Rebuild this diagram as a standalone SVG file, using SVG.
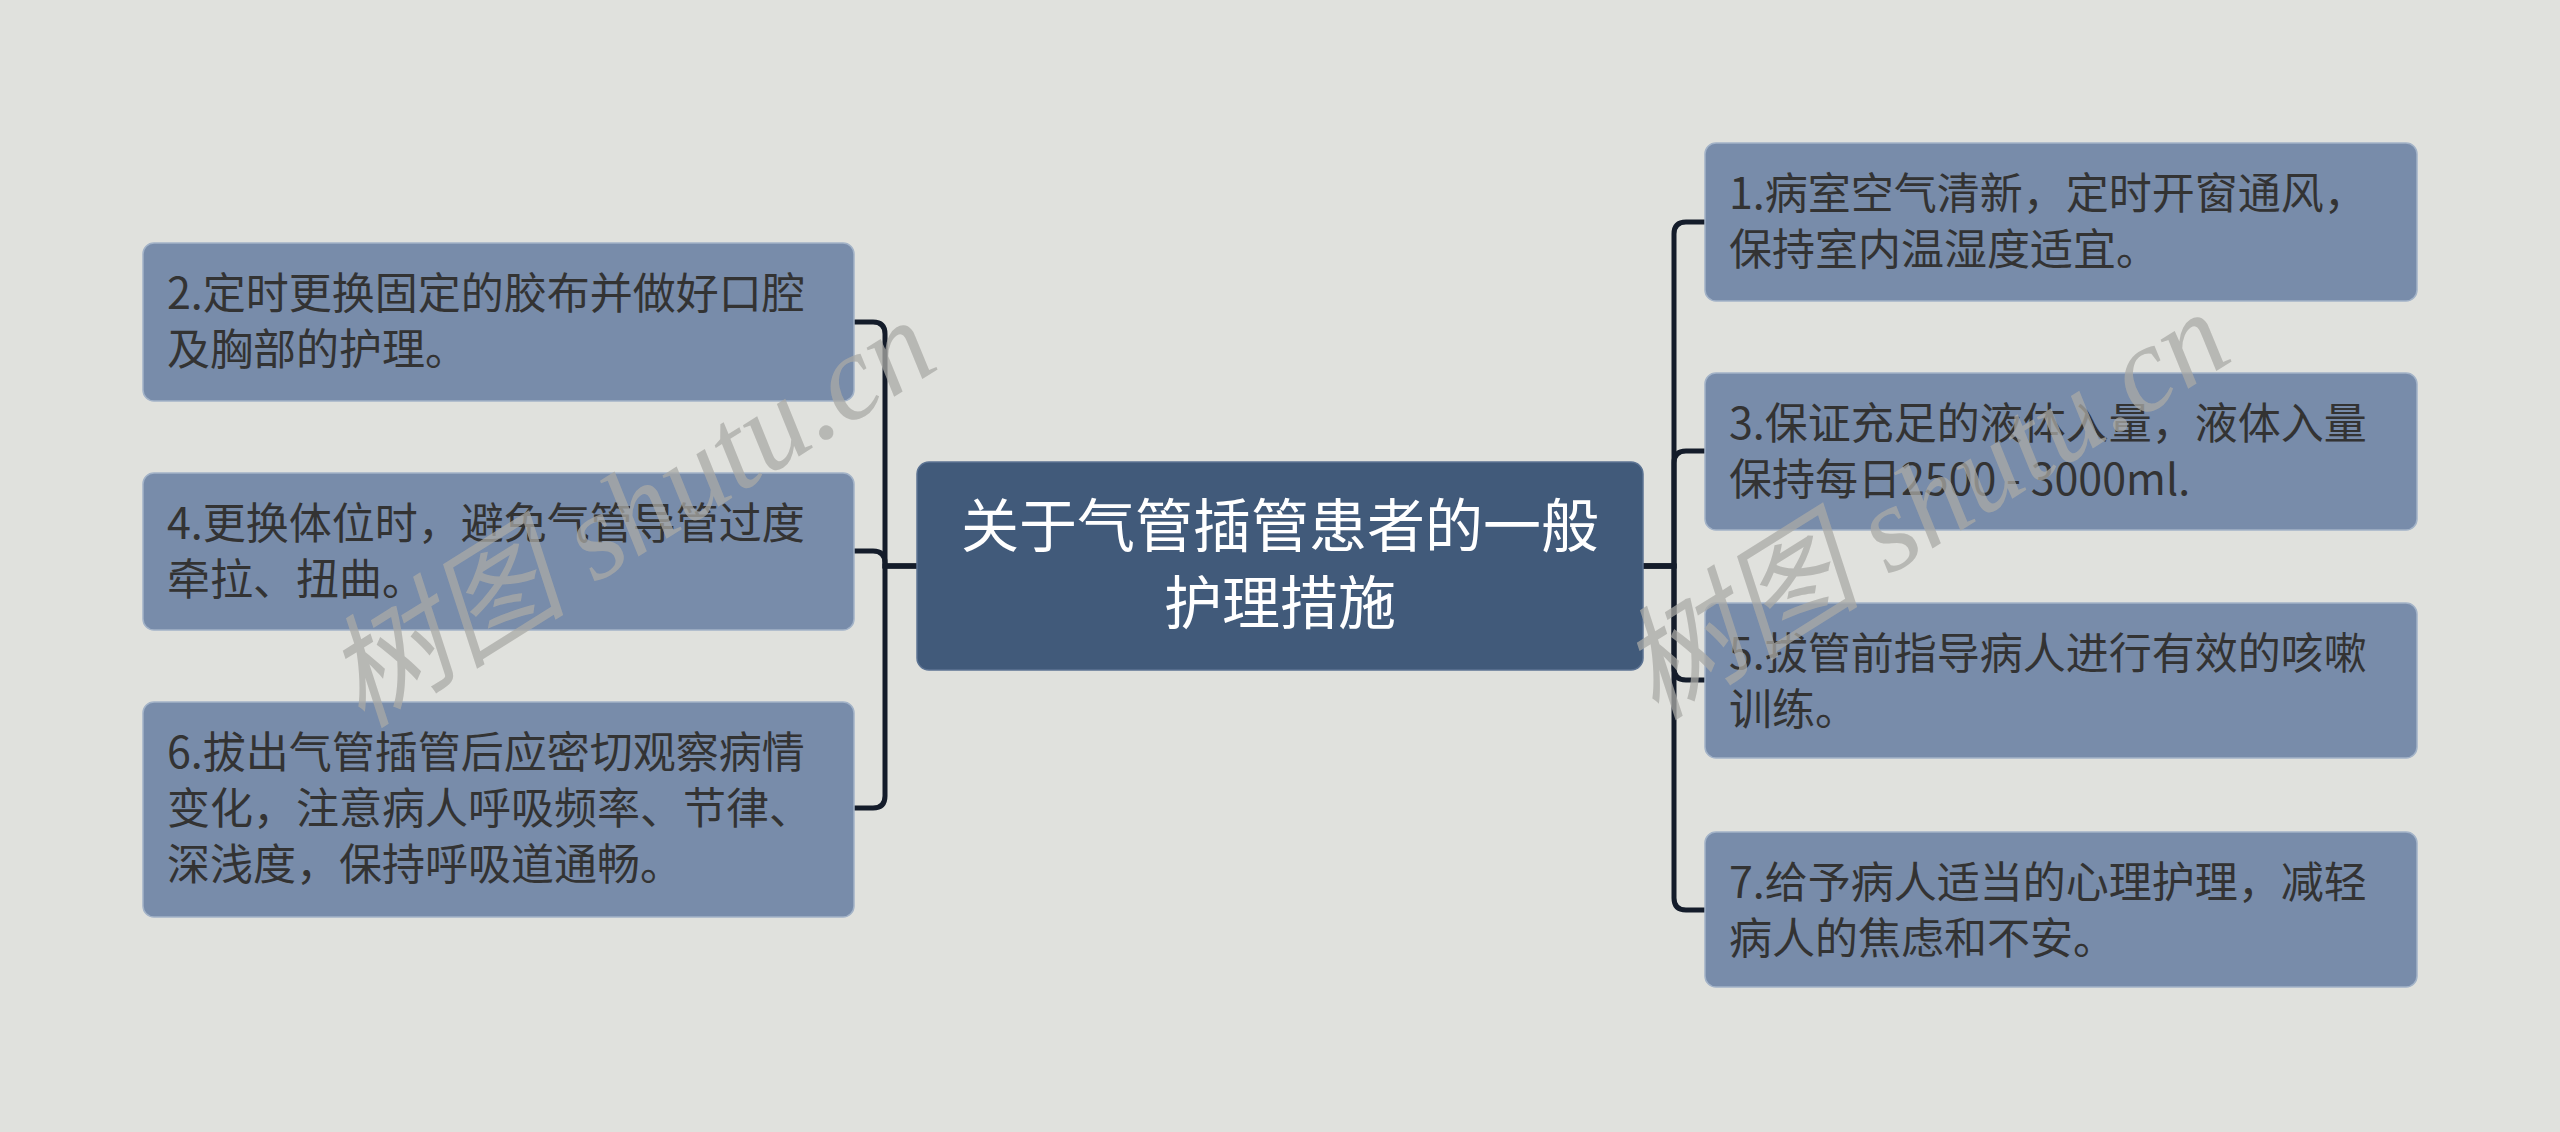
<svg xmlns="http://www.w3.org/2000/svg" width="2560" height="1132" viewBox="0 0 2560 1132">
<defs>
<style>
.bg{fill:#E0E1DD}
.node rect{fill:#788CAA;stroke:#A3B3C8;stroke-width:1.5}
.node text{font-family:"Noto Sans CJK SC","Noto Sans",sans-serif;font-size:43px;fill:#333333}
.root rect{fill:#415A7A;stroke:#5C7393;stroke-width:1.5}
.root text{font-family:"Noto Sans CJK SC","Noto Sans",sans-serif;font-size:58px;fill:#FFFFFF;text-anchor:middle}
.conn path{fill:none;stroke:#141C2A;stroke-width:5;stroke-linecap:butt}
.wm{font-family:"Liberation Serif","Noto Sans CJK SC",serif;font-size:122px;fill:#A9A9A6;fill-opacity:0.75;text-anchor:middle;font-style:italic}
</style>
</defs>
<rect class="bg" x="0" y="0" width="2560" height="1132"/>
<g id="connectors" class="conn">
<path d="M917,566 H885 V334 Q885,322 873,322 H854"/>
<path d="M917,566 H885 V563 Q885,551 873,551 H854"/>
<path d="M917,566 H885 V796 Q885,808 873,808 H854"/>
<path d="M1643,566 H1674 V234 Q1674,222 1686,222 H1705"/>
<path d="M1643,566 H1674 V463 Q1674,451 1686,451 H1705"/>
<path d="M1643,566 H1674 V668 Q1674,680 1686,680 H1705"/>
<path d="M1643,566 H1674 V898 Q1674,910 1686,910 H1705"/>
</g>
<g id="root" class="root">
<rect x="917" y="462" width="726" height="208" rx="12"/>
<text x="1280" y="547">关于气管插管患者的一般</text>
<text x="1280" y="624">护理措施</text>
</g>
<g id="n1" class="node">
<rect x="1705" y="143" width="712" height="158" rx="11"/>
<text x="1729" y="209">1.病室空气清新，定时开窗通风，</text>
<text x="1729" y="265">保持室内温湿度适宜。</text>
</g>
<g id="n2" class="node">
<rect x="143" y="243" width="711" height="158" rx="11"/>
<text x="167" y="309">2.定时更换固定的胶布并做好口腔</text>
<text x="167" y="365">及胸部的护理。</text>
</g>
<g id="n3" class="node">
<rect x="1705" y="373" width="712" height="157" rx="11"/>
<text x="1729" y="439">3.保证充足的液体入量，液体入量</text>
<text x="1729" y="495">保持每日2500 - 3000ml.</text>
</g>
<g id="n4" class="node">
<rect x="143" y="473" width="711" height="157" rx="11"/>
<text x="167" y="539">4.更换体位时，避免气管导管过度</text>
<text x="167" y="595">牵拉、扭曲。</text>
</g>
<g id="n5" class="node">
<rect x="1705" y="603" width="712" height="155" rx="11"/>
<text x="1729" y="669">5.拔管前指导病人进行有效的咳嗽</text>
<text x="1729" y="725">训练。</text>
</g>
<g id="n6" class="node">
<rect x="143" y="702" width="711" height="215" rx="11"/>
<text x="167" y="768">6.拔出气管插管后应密切观察病情</text>
<text x="167" y="824">变化，注意病人呼吸频率、节律、</text>
<text x="167" y="880">深浅度，保持呼吸道通畅。</text>
</g>
<g id="n7" class="node">
<rect x="1705" y="832" width="712" height="155" rx="11"/>
<text x="1729" y="898">7.给予病人适当的心理护理，减轻</text>
<text x="1729" y="954">病人的焦虑和不安。</text>
</g>
<g id="watermarks">
<text class="wm" transform="translate(652,548) rotate(-32)">树图 shutu.cn</text>
<text class="wm" transform="translate(1946,540) rotate(-32)">树图 shutu.cn</text>
</g>
</svg>
